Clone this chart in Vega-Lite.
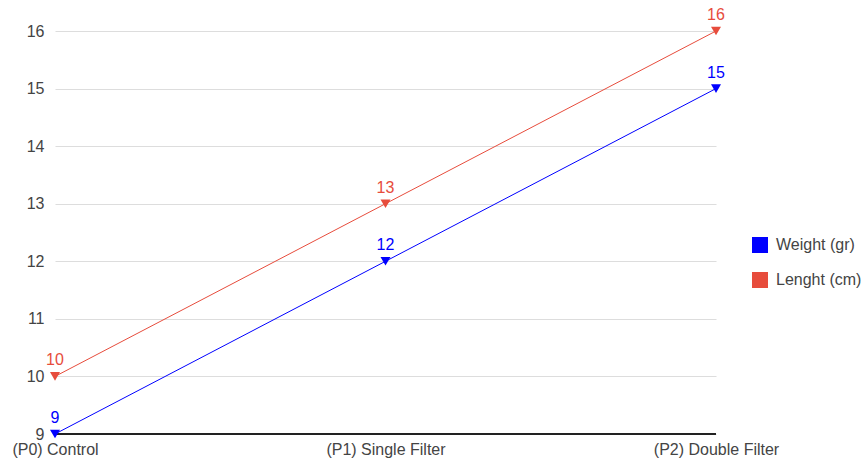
{
  "$schema": "https://vega.github.io/schema/vega-lite/v6.json",
  "width": 661,
  "height": 403,
  "autosize": {"type": "none"},
  "padding": {"left": 55, "top": 31, "right": 150, "bottom": 25},
  "background": "white",
  "config": {
    "font": "Liberation Sans",
    "view": {"stroke": null}
  },
  "data": {
    "values": [
      {"phase": "(P0) Control", "series": "Weight (gr)", "value": 9},
      {"phase": "(P1) Single Filter", "series": "Weight (gr)", "value": 12},
      {"phase": "(P2) Double Filter", "series": "Weight (gr)", "value": 15},
      {"phase": "(P0) Control", "series": "Lenght (cm)", "value": 10},
      {"phase": "(P1) Single Filter", "series": "Lenght (cm)", "value": 13},
      {"phase": "(P2) Double Filter", "series": "Lenght (cm)", "value": 16}
    ]
  },
  "encoding": {
    "x": {
      "field": "phase",
      "type": "ordinal",
      "sort": ["(P0) Control", "(P1) Single Filter", "(P2) Double Filter"],
      "scale": {"type": "point", "padding": 0},
      "axis": {
        "title": null,
        "labelAngle": 0,
        "labelFontSize": 16,
        "labelColor": "#444444",
        "labelPadding": 7,
        "ticks": false,
        "domain": false,
        "grid": false
      }
    },
    "y": {
      "field": "value",
      "type": "quantitative",
      "scale": {"domain": [9, 16], "nice": false, "zero": false},
      "axis": {
        "title": null,
        "values": [9, 10, 11, 12, 13, 14, 15, 16],
        "labelFontSize": 16,
        "labelColor": "#444444",
        "labelPadding": 11,
        "ticks": false,
        "domain": false,
        "grid": true,
        "gridColor": "#dddddd"
      }
    },
    "color": {
      "field": "series",
      "type": "nominal",
      "sort": ["Weight (gr)", "Lenght (cm)"],
      "scale": {"domain": ["Weight (gr)", "Lenght (cm)"], "range": ["#0000ff", "#e74c3c"]},
      "legend": {
        "title": null,
        "orient": "none",
        "legendX": 697,
        "legendY": 206,
        "symbolType": "square",
        "symbolSize": 256,
        "symbolStrokeWidth": 0,
        "labelFontSize": 16,
        "labelColor": "#444444",
        "rowPadding": 19,
        "labelOffset": 8
      }
    }
  },
  "layer": [
    {
      "data": {"values": [{"v": 9}]},
      "mark": {"type": "rule", "color": "#222222", "strokeWidth": 2},
      "encoding": {
        "y": {"field": "v", "type": "quantitative"},
        "x": null,
        "color": null
      }
    },
    {
      "mark": {"type": "line", "strokeWidth": 1}
    },
    {
      "mark": {"type": "point", "shape": "triangle-down", "filled": true, "size": 100, "opacity": 1}
    },
    {
      "mark": {"type": "text", "dy": -16, "fontSize": 16},
      "encoding": {"text": {"field": "value", "type": "quantitative"}}
    }
  ]
}
